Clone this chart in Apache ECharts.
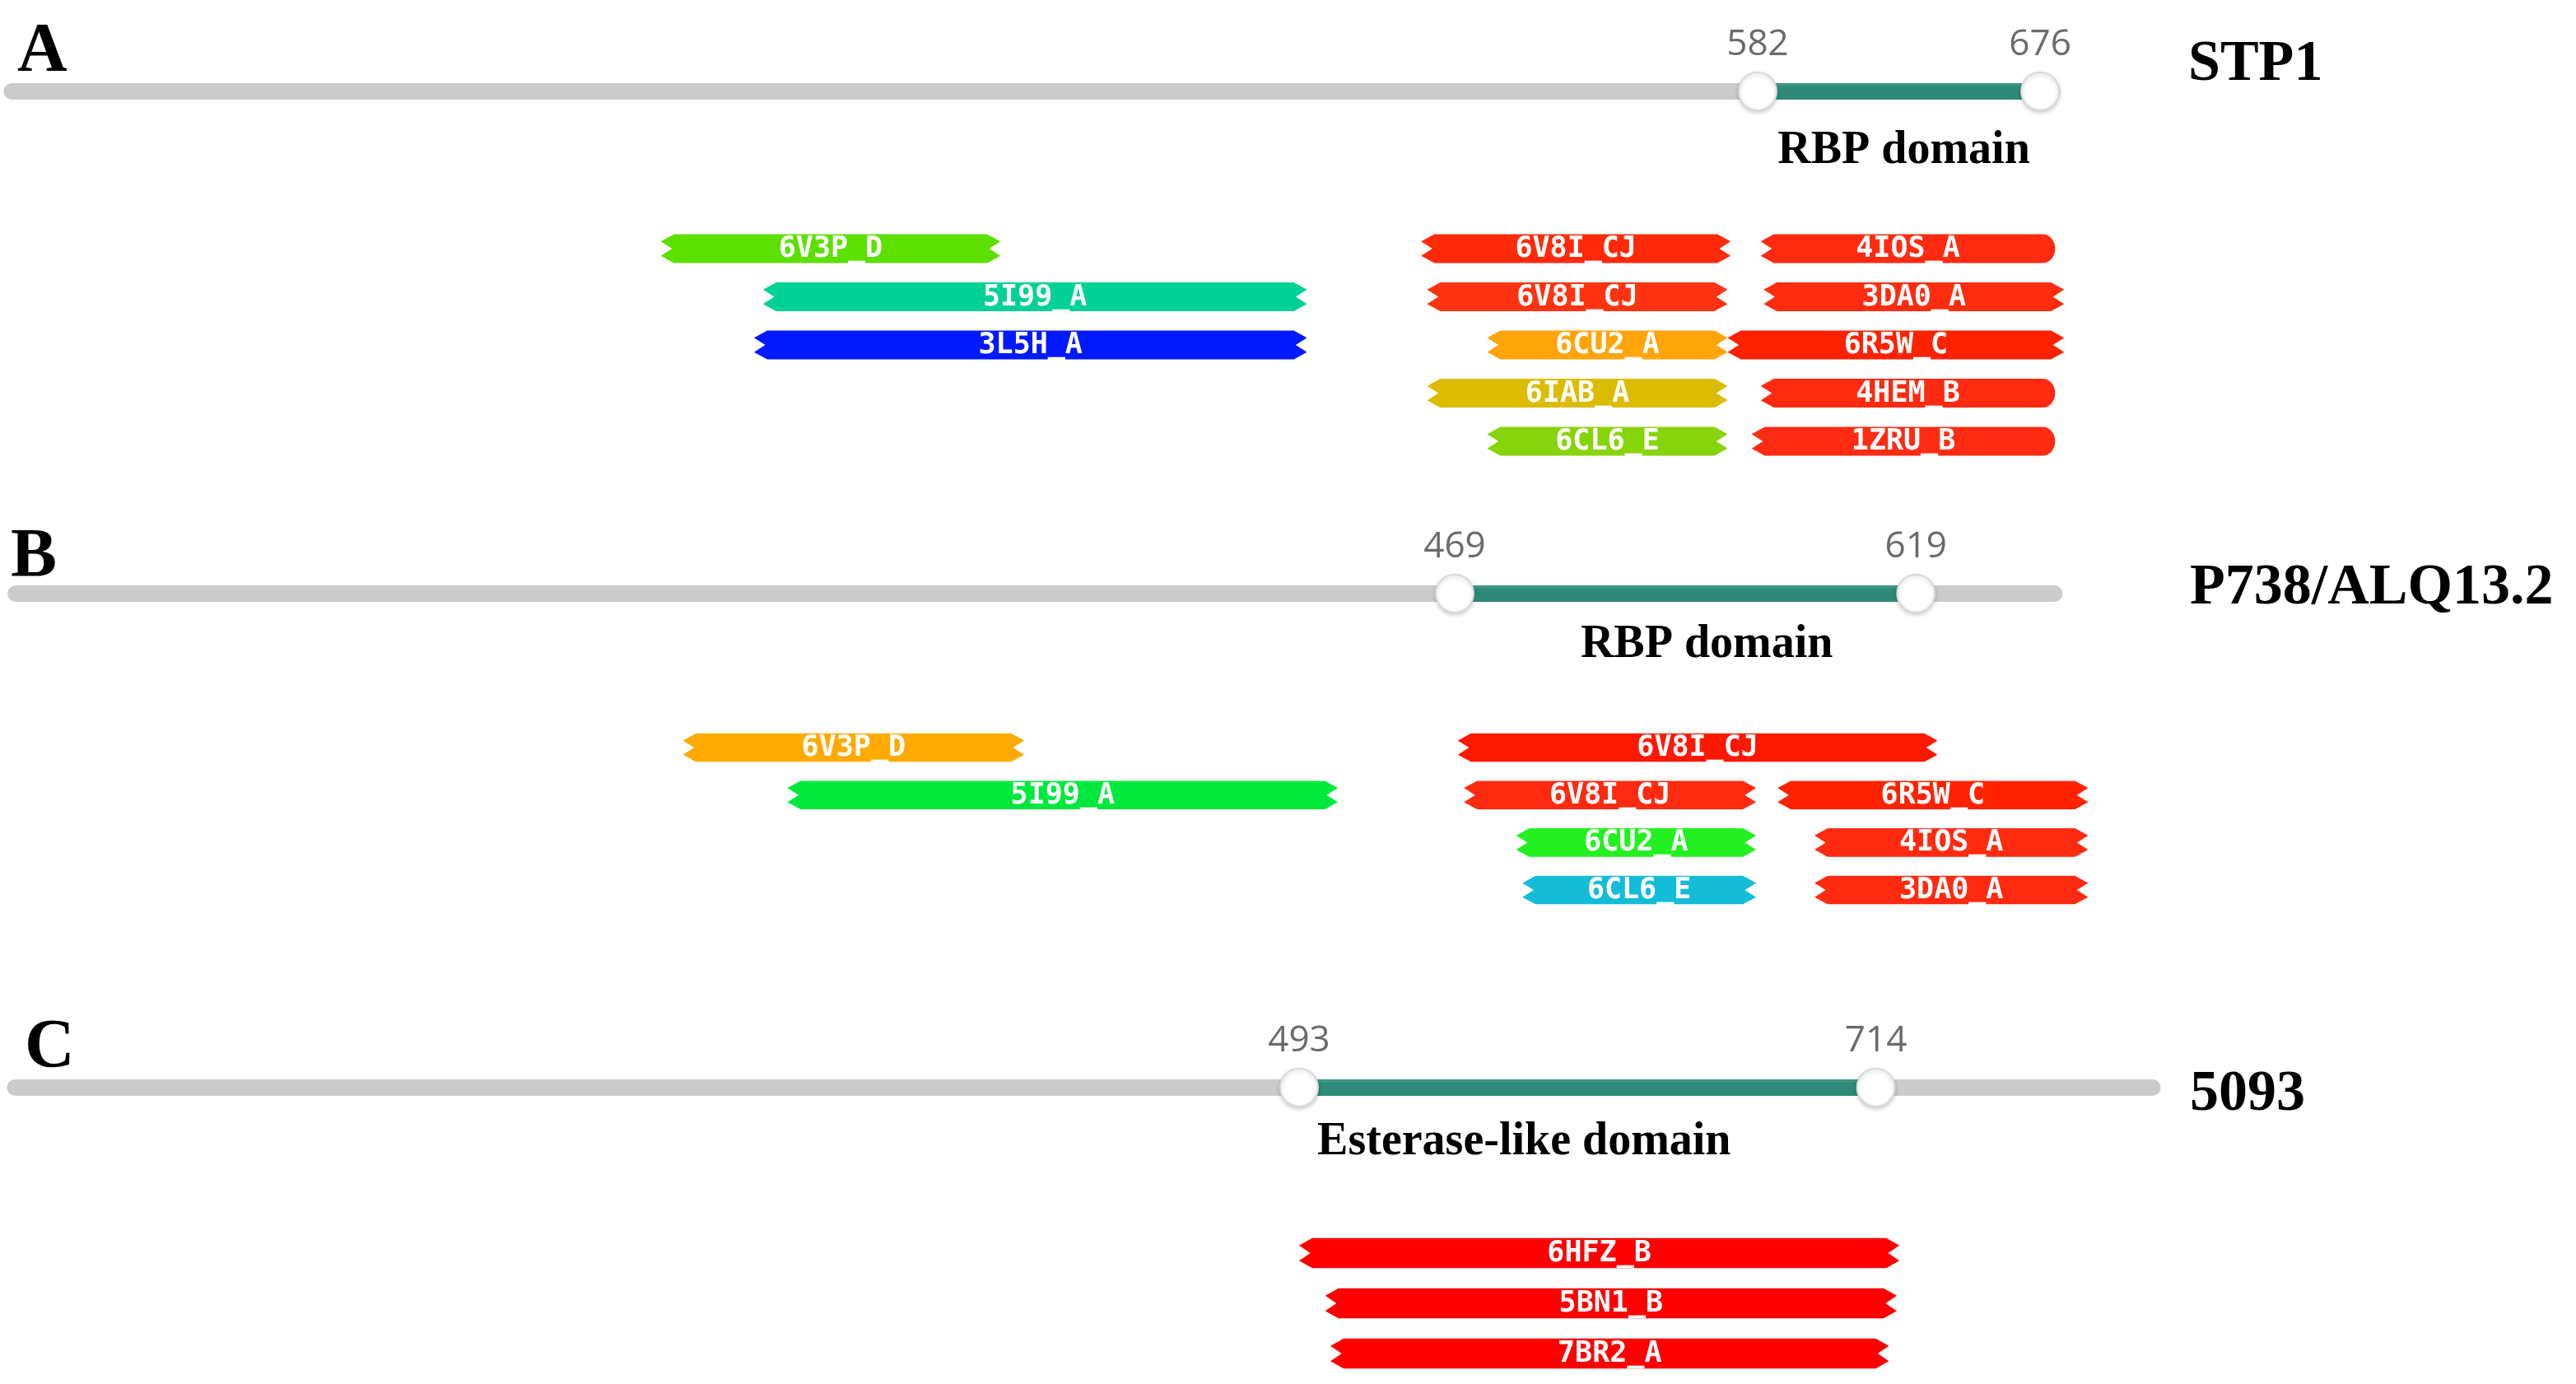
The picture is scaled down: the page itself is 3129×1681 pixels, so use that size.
<!DOCTYPE html>
<html>
<head>
<meta charset="utf-8">
<script src="https://cdn.jsdelivr.net/npm/echarts@6/dist/echarts.min.js"></script>
<style>
html,body{margin:0;padding:0;background:#ffffff;}
#chart{width:3129px;height:1681px;}
</style>
</head>
<body>
<div id="chart"></div>
<script>
// ---------- DATA ----------
const panelLetters = ['A', 'B', 'C'];
const proteinNames = ['STP1', 'P738/ALQ13.2', '5093'];
const proteinLengths = [680, 664, 820];
const domainNames = ['RBP domain', 'RBP domain', 'Esterase-like domain'];
const domainStarts = [582, 469, 493];
const domainEnds = [676, 619, 714];

// Panel A hits
const hitNamesA = ['6V3P_D', '5I99_A', '3L5H_A', '6V8I_CJ', '6V8I_CJ', '6CU2_A', '6IAB_A', '6CL6_E', '4IOS_A', '3DA0_A', '6R5W_C', '4HEM_B', '1ZRU_B'];
const hitStartA = [217, 251, 248, 470, 472, 492, 472, 492, 583, 584, 572, 583, 580];
const hitEndA   = [330, 432, 432, 573, 572, 572, 572, 572, 681, 684, 684, 681, 681];
const hitRowA   = [0, 1, 2, 0, 1, 2, 3, 4, 0, 1, 2, 3, 4];
const hitFullEndA = [false, false, false, false, false, false, false, false, true, false, false, true, true];

// Panel B hits
const hitNamesB = ['6V3P_D', '5I99_A', '6V8I_CJ', '6V8I_CJ', '6R5W_C', '6CU2_A', '4IOS_A', '6CL6_E', '3DA0_A'];
const hitStartB = [218, 252, 470, 472, 574, 489, 586, 491, 586];
const hitEndB   = [329, 431, 626, 567, 675, 567, 675, 567, 675];
const hitRowB   = [0, 1, 0, 1, 1, 2, 2, 3, 3];
const hitFullEndB = [false, false, false, false, false, false, false, false, false];

// Panel C hits
const hitNamesC = ['6HFZ_B', '5BN1_B', '7BR2_A'];
const hitStartC = [493, 503, 505];
const hitEndC   = [723, 722, 719];
const hitRowC   = [0, 1, 2];
const hitFullEndC = [false, false, false];

// ---------- STYLES ----------
const hitColorsA = ['#5ce000', '#00d194', '#0019ff', '#ff2a0a', '#ff3311', '#ffa50a', '#dcbc00', '#88d40a', '#ff2a10', '#ff2c10', '#ff2200', '#ff2a10', '#ff2c14'];
const hitColorsB = ['#ffaa00', '#00e83c', '#ff1800', '#ff2a10', '#ff2200', '#22f020', '#ff2a10', '#14bcd8', '#ff2a10'];
const hitColorsC = ['#ff0000', '#ff0000', '#ff0000'];

const serif = '"Liberation Serif","Times New Roman",serif';

// layout (pixels)
const xLayout = [
  {left: 10.7, width: 2555, max: 700},
  {left: 15.3, width: 2614.5, max: 700},
  {left: 15.2, width: 2694.5, max: 850}
];
const trackY = [111, 721, 1321];
const hitGridLayout = [
  {top: 272.75, height: 292.5, rows: 5},
  {top: 879.2, height: 230.7, rows: 4},
  {top: 1491.5, height: 183, rows: 3}
];
const domainLabelDx = [6, 26, -77];
const domainLabelDy = [73, 63, 67];
const letterPos = [[21, 64], [13, 678], [30, 1274]];
const namePos = [[2658, 79], [2660, 715], [2660, 1330]];

const grids = [], xAxes = [], yAxes = [], series = [];

for (let p = 0; p < 3; p++) {
  // track grid
  grids.push({left: xLayout[p].left, width: xLayout[p].width, top: trackY[p] - 50, height: 100});
  // hits grid
  grids.push({left: xLayout[p].left, width: xLayout[p].width, top: hitGridLayout[p].top, height: hitGridLayout[p].height});
  for (let k = 0; k < 2; k++) {
    xAxes.push({type: 'value', gridIndex: 2 * p + k, min: 0, max: xLayout[p].max, show: false});
  }
  yAxes.push({type: 'value', gridIndex: 2 * p, min: -1, max: 1, show: false});
  yAxes.push({type: 'value', gridIndex: 2 * p + 1, min: -0.5, max: hitGridLayout[p].rows - 0.5, inverse: true, show: false});
}

function trackSeries(p) {
  return {
    type: 'custom',
    xAxisIndex: 2 * p, yAxisIndex: 2 * p,
    clip: false,
    silent: true,
    data: [[1, proteinLengths[p], domainStarts[p], domainEnds[p]]],
    renderItem: function (params, api) {
      const s = api.coord([api.value(0), 0]);
      const e = api.coord([api.value(1), 0]);
      const ds = api.coord([api.value(2), 0]);
      const de = api.coord([api.value(3), 0]);
      const children = [
        {type: 'line', shape: {x1: s[0], y1: s[1], x2: e[0], y2: e[1]},
         style: {stroke: '#cbcbcb', lineWidth: 20, lineCap: 'round'}},
        {type: 'line', shape: {x1: ds[0], y1: ds[1], x2: de[0], y2: de[1]},
         style: {stroke: '#2e8978', lineWidth: 20, lineCap: 'butt'}},
        {type: 'line', shape: {x1: ds[0], y1: ds[1] - 8, x2: de[0], y2: de[1] - 8},
         style: {stroke: '#3b9886', lineWidth: 3, lineCap: 'butt'}}
      ];
      [[ds, api.value(2)], [de, api.value(3)]].forEach(function (m) {
        children.push({type: 'circle', shape: {cx: m[0][0], cy: m[0][1], r: 23},
          style: {fill: '#ffffff', stroke: '#d9d9d9', lineWidth: 2,
                  shadowBlur: 5, shadowColor: 'rgba(0,0,0,0.18)', shadowOffsetY: 2}});
        children.push({type: 'text', style: {text: String(m[1]), x: m[0][0], y: m[0][1] - 57,
          align: 'center', verticalAlign: 'middle', fill: '#6a6a6a',
          font: '44px "Open Sans", sans-serif'}});
      });
      const mid = api.coord([(api.value(2) + api.value(3)) / 2, 0]);
      children.push({type: 'text', style: {text: domainNames[p], x: mid[0] + domainLabelDx[p], y: mid[1] + domainLabelDy[p],
        align: 'center', verticalAlign: 'middle', fill: '#000000', font: 'bold 56px ' + serif}});
      return {type: 'group', children: children};
    }
  };
}

function hitSeries(p, names, starts, ends, rows, fullEnd, colors) {
  const data = names.map(function (n, i) { return [starts[i], ends[i], rows[i]]; });
  return {
    type: 'custom',
    xAxisIndex: 2 * p + 1, yAxisIndex: 2 * p + 1,
    clip: false,
    silent: true,
    data: data,
    renderItem: function (params, api) {
      const i = params.dataIndex;
      const a = api.coord([api.value(0), api.value(2)]);
      const b = api.coord([api.value(1), api.value(2)]);
      const rowH = api.size([0, 1])[1];
      const h = rowH * 0.6;
      const x0 = a[0], x1 = b[0], yc = a[1];
      const top = yc - h / 2, bot = yc + h / 2;
      const e = 16;
      const pts = [];
      // left zigzag end (bottom to top)
      pts.push([x0 + e, bot], [x0, yc + h * 0.25], [x0 + e * 0.85, yc], [x0, yc - h * 0.25], [x0 + e, top]);
      if (fullEnd[i]) {
        const rx = 15;
        for (let k = 0; k <= 16; k++) {
          const ang = -Math.PI / 2 + Math.PI * k / 16;
          pts.push([x1 - rx + rx * Math.cos(ang), yc + (h / 2) * Math.sin(ang)]);
        }
      } else {
        pts.push([x1 - e, top], [x1, yc - h * 0.25], [x1 - e * 0.85, yc], [x1, yc + h * 0.25], [x1 - e, bot]);
      }
      return {type: 'group', children: [
        {type: 'polygon', shape: {points: pts}, style: {fill: colors[i]}},
        {type: 'text', style: {text: names[i], x: (x0 + x1) / 2, y: yc + 1, align: 'center', verticalAlign: 'middle',
          fill: '#ffffff', font: 'bold 35px "DejaVu Sans Mono", monospace'}}
      ]};
    }
  };
}

for (let p = 0; p < 3; p++) series.push(trackSeries(p));
series.push(hitSeries(0, hitNamesA, hitStartA, hitEndA, hitRowA, hitFullEndA, hitColorsA));
series.push(hitSeries(1, hitNamesB, hitStartB, hitEndB, hitRowB, hitFullEndB, hitColorsB));
series.push(hitSeries(2, hitNamesC, hitStartC, hitEndC, hitRowC, hitFullEndC, hitColorsC));

const graphics = [];
for (let p = 0; p < 3; p++) {
  graphics.push({type: 'text', left: letterPos[p][0], top: letterPos[p][1] - 42,
    style: {text: panelLetters[p], fill: '#000', font: 'bold 84px ' + serif}});
  graphics.push({type: 'text', left: namePos[p][0], top: namePos[p][1] - 35,
    style: {text: proteinNames[p], fill: '#000', font: 'bold 70px ' + serif}});
}

const chart = echarts.init(document.getElementById('chart'), null, {renderer: 'canvas'});
chart.setOption({
  backgroundColor: '#ffffff',
  animation: false,
  grid: grids,
  xAxis: xAxes,
  yAxis: yAxes,
  series: series,
  graphic: graphics
});
</script>
</body>
</html>
